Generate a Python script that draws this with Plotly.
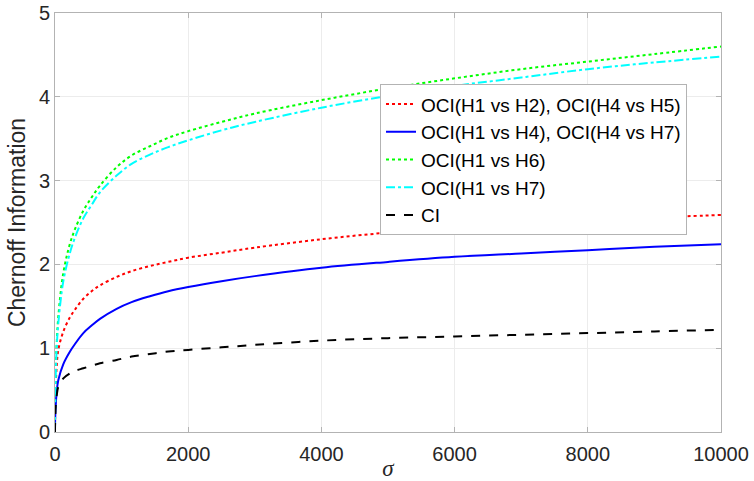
import plotly.graph_objects as go

sigma = [0, 2, 10, 25, 50, 125, 225, 300, 425, 550, 675, 925, 1150, 1425, 1700, 2000, 2500, 3000, 4000, 5000, 6000, 7000, 8000, 9000, 10000]

oci_h1_h2 = [0, 0.22, 0.50, 0.78, 0.98, 1.20, 1.37, 1.46, 1.59, 1.68, 1.75, 1.85, 1.92, 1.98, 2.03, 2.08, 2.14, 2.20, 2.30, 2.38, 2.44, 2.49, 2.53, 2.56, 2.59]
oci_h1_h4 = [0, 0.14, 0.30, 0.48, 0.62, 0.81, 0.96, 1.05, 1.18, 1.27, 1.35, 1.47, 1.55, 1.62, 1.68, 1.73, 1.80, 1.86, 1.96, 2.03, 2.09, 2.13, 2.17, 2.21, 2.24]
oci_h1_h6 = [0, 0.32, 0.70, 1.05, 1.38, 1.90, 2.25, 2.42, 2.64, 2.80, 2.94, 3.16, 3.30, 3.41, 3.51, 3.59, 3.70, 3.80, 3.96, 4.10, 4.22, 4.33, 4.42, 4.51, 4.60]
oci_h1_h7 = [0, 0.30, 0.65, 1.00, 1.30, 1.80, 2.14, 2.32, 2.55, 2.71, 2.86, 3.06, 3.20, 3.31, 3.40, 3.48, 3.60, 3.70, 3.87, 4.01, 4.13, 4.23, 4.33, 4.41, 4.48]
ci = [0, 0.14, 0.30, 0.43, 0.54, 0.64, 0.70, 0.73, 0.76, 0.79, 0.82, 0.86, 0.90, 0.93, 0.96, 0.98, 1.01, 1.04, 1.09, 1.12, 1.14, 1.16, 1.18, 1.20, 1.22]

names = ["OCI(H1 vs H2), OCI(H4 vs H5)", "OCI(H1 vs H4), OCI(H4 vs H7)",
         "OCI(H1 vs H6)", "OCI(H1 vs H7)", "CI"]
series = [oci_h1_h2, oci_h1_h4, oci_h1_h6, oci_h1_h7, ci]
colors = ["#ff0000", "#0000ff", "#00ff00", "#00ffff", "#000000"]
dashes = ["dot", "solid", "dot", "dashdot", "dash"]

fig = go.Figure()
for n, s, c, d in zip(names, series, colors, dashes):
    fig.add_trace(go.Scatter(x=sigma, y=s, mode="lines", name=n,
                             line=dict(color=c, dash=d, width=2, shape="spline", smoothing=1.0)))

axis_common = dict(showline=True, linecolor="#b3b3b3", linewidth=1, mirror="ticks",
                   ticks="inside", ticklen=5, tickcolor="#b3b3b3",
                   showgrid=True, gridcolor="#ececec", gridwidth=1, zeroline=False,
                   ticklabeloverflow="allow", automargin=False,
                   tickfont=dict(family="Liberation Sans, Arial, sans-serif", size=20, color="#262626"))

fig.update_layout(
    width=754, height=481,
    margin=dict(l=55, r=33, t=13, b=49),
    paper_bgcolor="white", plot_bgcolor="white",
    font=dict(family="Liberation Sans, Arial, sans-serif", color="#262626"),
    xaxis=dict(range=[0, 10000], tickvals=[0, 2000, 4000, 6000, 8000, 10000],
               ticktext=["0", "2000", "4000", "6000", "8000", "10000"],
               ticklabelstandoff=4,
               title=dict(text="<i>σ</i>", font=dict(size=23, family="Liberation Serif, Times New Roman, serif"), standoff=0),
               **axis_common),
    yaxis=dict(range=[0, 5], tickvals=[0, 1, 2, 3, 4, 5],
               ticktext=["0", "1", "2", "3", "4", "5"],
               title=dict(text="Chernoff Information", font=dict(size=23), standoff=6),
               **axis_common),
    legend=dict(x=0.488, y=0.83, xanchor="left", yanchor="top",
                bgcolor="white", bordercolor="#b3b3b3", borderwidth=1,
                font=dict(size=19, color="#000000"), tracegroupgap=0, itemwidth=30),
    showlegend=True,
)

fig.write_html("out.html")
